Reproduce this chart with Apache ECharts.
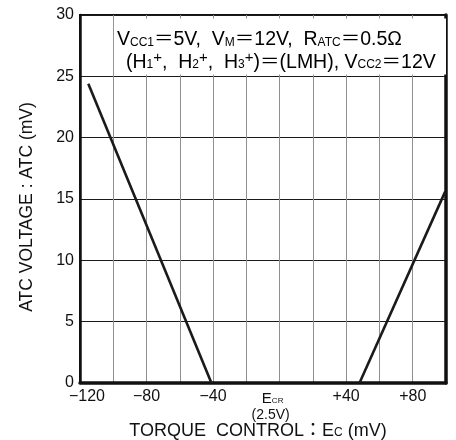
<!DOCTYPE html>
<html><head><meta charset="utf-8">
<script src="https://cdn.jsdelivr.net/npm/echarts@6/dist/echarts.min.js"></script>
<style>html,body{margin:0;padding:0;background:#fff}#c{width:456px;height:440px}</style>
</head><body><div id="c"></div>
<script>
// Data
const line1X = [-115, -41];
const line1Y = [24.4, 0];
const line2X = [48, 99.5];
const line2Y = [0, 15.6];
const xLabelMap = {'-120':'−120','-80':'−80','-40':'−40','0':'ECR','40':'+40','80':'+80'};
const yTicks = [0, 5, 10, 15, 20, 25, 30];

const FF = '"Liberation Sans", Arial, "Noto Sans CJK JP", sans-serif';
const toPairs = (xs, ys) => xs.map((x, i) => [x, ys[i]]);

const richAnno = {
  n: {fontSize: 19.5, fontFamily: FF, color: '#111', lineHeight: 22, verticalAlign: 'bottom'},
  s: {fontSize: 12, fontFamily: FF, color: '#111', lineHeight: 22, verticalAlign: 'bottom', padding: [0,0,1,0]},
  p: {fontSize: 15, fontFamily: FF, color: '#111', lineHeight: 22, verticalAlign: 'top', padding: [0,0,8,0]}
};
const anno1 = '{n|V}{s|CC1}{n|＝5V,  V}{s|M}{n|＝12V,  R}{s|ATC}{n|＝0.5Ω}';
const anno2 = '{n|(H}{s|1}{p|+}{n|,  H}{s|2}{p|+}{n|,  H}{s|3}{p|+}{n|)＝(LMH), V}{s|CC2}{n|＝12V}';

const chart = echarts.init(document.getElementById('c'));
chart.setOption({
  animation: false,
  backgroundColor: '#fff',
  grid: {left: 80, right: 10, top: 15, bottom: 57, show: true, borderColor: '#111', borderWidth: 2,
         containLabel: false, outerBoundsMode: 'none'},
  xAxis: {
    type: 'value', min: -120, max: 100, interval: 20,
    axisLine: {show: true, onZero: false, lineStyle: {color: '#111', width: 3.5}},
    axisTick: {show: false},
    splitLine: {show: true, lineStyle: {color: '#8f8f8f', width: 1}},
    axisLabel: {
      margin: 6, color: '#111', fontFamily: FF, fontSize: 16,
      formatter: v => {
        const k = String(v);
        if (!(k in xLabelMap)) return '';
        if (v === 0) return '{e|E}{c|CR}\n{q|(2.5V)}';
        if (v === -120) return '{m|' + xLabelMap[k] + '}';
        return xLabelMap[k];
      },
      rich: {
        m: {fontSize: 16, fontFamily: FF, color: '#111', padding: [0,0,0,14]},
        e: {fontSize: 15, fontFamily: FF, color: '#111', lineHeight: 17, verticalAlign: 'bottom'},
        c: {fontSize: 8, fontFamily: FF, color: '#111', lineHeight: 17, verticalAlign: 'bottom', padding: [0,14,1,0]},
        q: {fontSize: 14, fontFamily: FF, color: '#111', lineHeight: 18, padding: [0,18,0,0]}
      }
    }
  },
  yAxis: [{
    type: 'value', min: 0, max: 30, interval: 5,
    axisLine: {show: true, onZero: false, lineStyle: {color: '#111', width: 2.5}},
    axisTick: {show: false},
    splitLine: {show: true, lineStyle: {color: '#1a1a1a', width: 1.2}},
    axisLabel: {margin: 6, color: '#111', fontFamily: FF, fontSize: 16,
      formatter: v => yTicks.includes(v) ? String(v) : ''}
  }, {
    type: 'value', min: 0, max: 30, interval: 5, position: 'right',
    axisLine: {show: true, onZero: false, lineStyle: {color: '#111', width: 3.5}},
    axisTick: {show: false}, axisLabel: {show: false}, splitLine: {show: false}
  }],
  series: [{
    type: 'line', data: toPairs(line1X, line1Y), showSymbol: false, symbol: 'none',
    lineStyle: {color: '#1a1a1a', width: 2.6},
    markArea: {
      silent: true,
      itemStyle: {color: '#fff', opacity: 1},
      data: [[{coord: [-99.6, 25.15]}, {coord: [100, 29.72]}]]
    },
    z: 2
  }, {
    type: 'line', data: toPairs(line2X, line2Y), showSymbol: false, symbol: 'none',
    lineStyle: {color: '#1a1a1a', width: 2.6}, z: 3
  }],
  graphic: [
    {type: 'text', left: 117, top: 30, z: 100, style: {text: anno1, rich: richAnno}},
    {type: 'text', left: 126, top: 50, z: 100, style: {text: anno2, rich: richAnno}},
    {type: 'text', x: 27, y: 207, rotation: Math.PI / 2, z: 100,
     style: {text: 'ATC VOLTAGE : ATC (mV)', font: '17.5px ' + FF, fill: '#111', align: 'center', verticalAlign: 'middle'}},
    {type: 'text', x: 258, y: 430, z: 100,
     style: {
       text: '{a|TORQUE  CONTROL：E}{b|C}{a| (mV)}', align: 'center', verticalAlign: 'middle',
       rich: {
         a: {fontSize: 18, fontFamily: FF, fill: '#111', lineHeight: 20, verticalAlign: 'bottom'},
         b: {fontSize: 12, fontFamily: FF, fill: '#111', lineHeight: 20, verticalAlign: 'bottom', padding: [0,0,1,0]}
       }
     }}
  ]
});
</script></body></html>
